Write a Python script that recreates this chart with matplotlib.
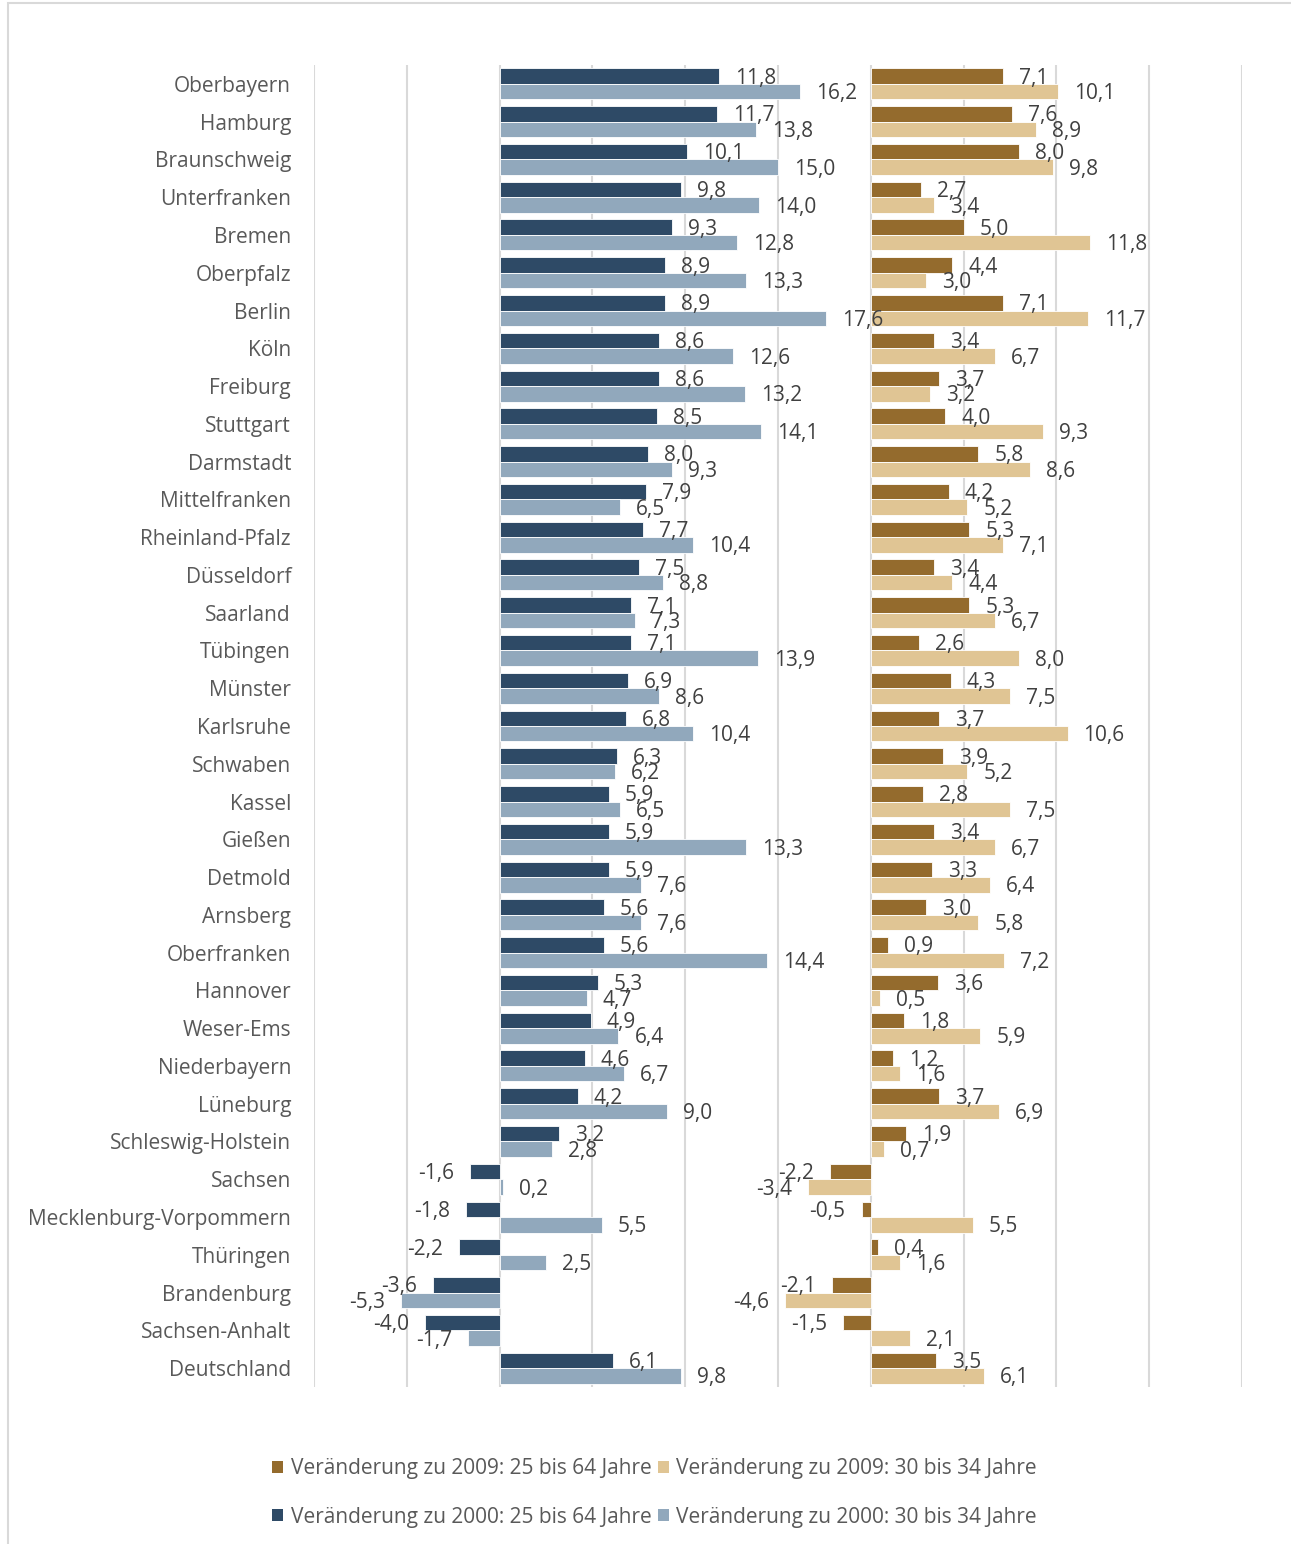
import matplotlib
matplotlib.use("Agg")
import matplotlib.pyplot as plt
from matplotlib.patches import Rectangle, Patch

regions = ["Oberbayern", "Hamburg", "Braunschweig", "Unterfranken", "Bremen", "Oberpfalz",
           "Berlin", "Köln", "Freiburg", "Stuttgart", "Darmstadt", "Mittelfranken",
           "Rheinland-Pfalz", "Düsseldorf", "Saarland", "Tübingen", "Münster", "Karlsruhe",
           "Schwaben", "Kassel", "Gießen", "Detmold", "Arnsberg", "Oberfranken", "Hannover",
           "Weser-Ems", "Niederbayern", "Lüneburg", "Schleswig-Holstein", "Sachsen",
           "Mecklenburg-Vorpommern", "Thüringen", "Brandenburg", "Sachsen-Anhalt", "Deutschland"]

v2000_25_64 = [11.8, 11.7, 10.1, 9.8, 9.3, 8.9, 8.9, 8.6, 8.6, 8.5, 8.0, 7.9, 7.7, 7.5, 7.1, 7.1,
               6.9, 6.8, 6.3, 5.9, 5.9, 5.9, 5.6, 5.6, 5.3, 4.9, 4.6, 4.2, 3.2, -1.6, -1.8, -2.2,
               -3.6, -4.0, 6.1]
v2000_30_34 = [16.2, 13.8, 15.0, 14.0, 12.8, 13.3, 17.6, 12.6, 13.2, 14.1, 9.3, 6.5, 10.4, 8.8, 7.3,
               13.9, 8.6, 10.4, 6.2, 6.5, 13.3, 7.6, 7.6, 14.4, 4.7, 6.4, 6.7, 9.0, 2.8, 0.2, 5.5,
               2.5, -5.3, -1.7, 9.8]
v2009_25_64 = [7.1, 7.6, 8.0, 2.7, 5.0, 4.4, 7.1, 3.4, 3.7, 4.0, 5.8, 4.2, 5.3, 3.4, 5.3, 2.6,
               4.3, 3.7, 3.9, 2.8, 3.4, 3.3, 3.0, 0.9, 3.6, 1.8, 1.2, 3.7, 1.9, -2.2, -0.5, 0.4,
               -2.1, -1.5, 3.5]
v2009_30_34 = [10.1, 8.9, 9.8, 3.4, 11.8, 3.0, 11.7, 6.7, 3.2, 9.3, 8.6, 5.2, 7.1, 4.4, 6.7, 8.0,
               7.5, 10.6, 5.2, 7.5, 6.7, 6.4, 5.8, 7.2, 0.5, 5.9, 1.6, 6.9, 0.7, -3.4, 5.5, 1.6,
               -4.6, 2.1, 6.1]

legend_labels = ["Veränderung zu 2009: 25 bis 64 Jahre", "Veränderung zu 2009: 30 bis 34 Jahre",
                 "Veränderung zu 2000: 25 bis 64 Jahre", "Veränderung zu 2000: 30 bis 34 Jahre"]

C_NAVY = "#2E4A66"
C_LBLUE = "#91A8BC"
C_BROWN = "#946B2D"
C_TAN = "#E0C594"
TXT = "#404040"
CAT = "#595959"

RIGHT_OFFSET = 20  # right panel baseline

plt.rcParams['font.family'] = ['Open Sans', 'DejaVu Sans']
FS = 15

fig = plt.figure(figsize=(12.91, 15.44), dpi=100)
# outer frame
fig.patches.append(Rectangle((8 / 1291, -0.01), 1.1, 1 - 3 / 1544 + 0.01, transform=fig.transFigure,
                             fill=False, edgecolor="#D9D9D9", linewidth=1.5))

ax = fig.add_axes([314 / 1291, 1 - 1387 / 1544, (1242 - 314) / 1291, (1387 - 65) / 1544])

y = list(range(len(regions)))
h = 0.41
yd = [i - h / 2 for i in y]
yl = [i + h / 2 for i in y]

kw = dict(height=h, edgecolor="white", linewidth=0.6, zorder=3)
ax.barh(yd, v2000_25_64, color=C_NAVY, **kw)
ax.barh(yl, v2000_30_34, color=C_LBLUE, **kw)
ax.barh(yd, v2009_25_64, left=RIGHT_OFFSET, color=C_BROWN, **kw)
ax.barh(yl, v2009_30_34, left=RIGHT_OFFSET, color=C_TAN, **kw)

off = 16 * 72 / 100
dy = -1.5


def lab(yy, vals, base):
    for yi, v in zip(yy, vals):
        s = f"{v:.1f}".replace(".", ",")
        if v >= 0:
            ax.annotate(s, (base + v, yi), xytext=(off, dy), textcoords="offset points",
                        ha="left", va="center", fontsize=FS, color=TXT, zorder=5)
        else:
            ax.annotate(s, (base + v, yi), xytext=(-off, dy), textcoords="offset points",
                        ha="right", va="center", fontsize=FS, color=TXT, zorder=5)


lab(yd, v2000_25_64, 0)
lab(yl, v2000_30_34, 0)
lab(yd, v2009_25_64, RIGHT_OFFSET)
lab(yl, v2009_30_34, RIGHT_OFFSET)

ax.set_xlim(-10, 40)
ax.set_xticks(range(-10, 41, 5))
ax.set_xticklabels([])
ax.grid(axis="x", color="#D9D9D9", linewidth=1.5, zorder=0)
ax.set_ylim(len(regions) - 0.5, -0.5)
ax.set_yticks(y)
ax.set_yticklabels(regions, fontsize=FS, color=CAT)
ax.tick_params(axis="y", length=0, pad=23 * 72 / 100)
ax.tick_params(axis="x", length=0)
for s in ax.spines.values():
    s.set_visible(False)

handles = [Patch(facecolor=C_BROWN), Patch(facecolor=C_NAVY), Patch(facecolor=C_TAN), Patch(facecolor=C_LBLUE)]
labels = [legend_labels[0], legend_labels[2], legend_labels[1], legend_labels[3]]
fig.legend(handles, labels, loc="center", bbox_to_anchor=(0.507, 1 - 1493 / 1544), ncol=2,
           frameon=False, fontsize=FS, labelcolor=CAT, handlelength=0.55, handleheight=0.55,
           handletextpad=0.35, columnspacing=0.3, labelspacing=1.3)

fig.savefig("out.png", dpi=100, facecolor="white")
